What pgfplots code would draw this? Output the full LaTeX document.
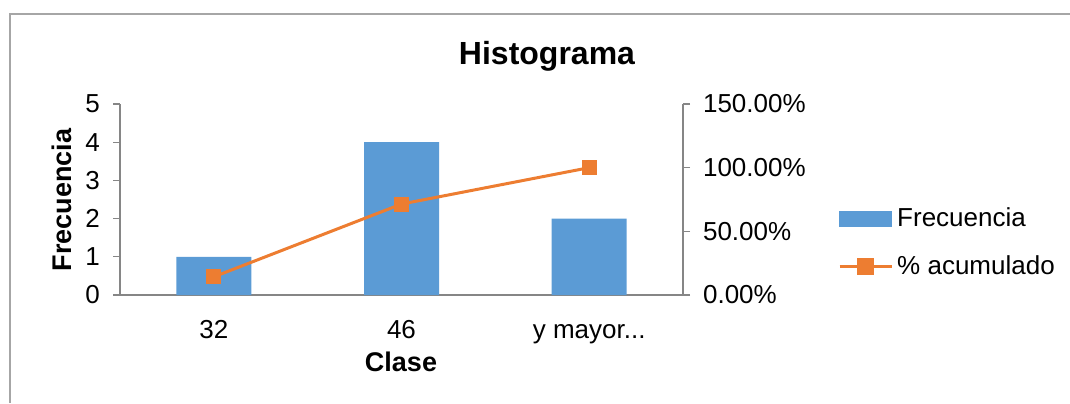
\documentclass[border=0pt]{standalone}
\usepackage{pgfplots}
\pgfplotsset{compat=1.18}
\usepackage{fontspec}
\setmainfont{Liberation Sans}
\definecolor{barblue}{HTML}{5B9BD5}
\definecolor{lineorange}{HTML}{ED7D31}
\definecolor{axgray}{HTML}{868686}
\definecolor{framegray}{HTML}{A6A6A6}
\begin{document}
\begin{tikzpicture}
\useasboundingbox (0,0) rectangle (535pt,201.5pt);
\draw[framegray, line width=1pt] (5pt,0pt) -- (5pt,194.5pt) -- (535pt,194.5pt);
\pgfplotsset{
  base/.style={
    at={(60pt,54pt)}, anchor=south west,
    scale only axis, width=281.5pt, height=95.5pt,
    xmin=-0.5, xmax=2.5,
    axis line style={axgray, line width=0.6pt},
    tick style={axgray, line width=0.6pt},
    tick align=outside,
    ticklabel style={font=\fontsize{13}{15}\selectfont, text=black},
  }
}
\begin{axis}[base,
  axis x line*=bottom, axis y line*=left,
  ymin=0, ymax=5, ytick={0,1,2,3,4,5},
  yticklabels={0,1,2,3,4,5},
  major tick length=3.5pt,
  xtick={0,1,2}, xticklabels={32,46,{y mayor{.}{.}{.}}},
  xtick style={draw=none},
  minor xtick={-0.5,0.5,1.5,2.5},
  minor tick length=3.5pt,
  xticklabel style={text height=9.5pt, text depth=2.5pt, yshift=-5pt},
  yticklabel style={xshift=-3pt},
]
\addplot[ybar, bar width=37.5pt, fill=barblue, draw=none] coordinates {(0,1) (1,4) (2,2)};
\end{axis}
\begin{axis}[base,
  axis x line=none, axis y line*=right,
  ymin=0, ymax=150, ytick={0,50,100,150},
  yticklabels={0.00\%,50.00\%,100.00\%,150.00\%},
  major tick length=3.5pt,
  yticklabel style={xshift=3pt},
  legend style={draw=none, fill=none, at={(1.275,0.275)}, anchor=west,
    font=\fontsize{13}{15}\selectfont, row sep=9pt, inner sep=0pt},
  legend cell align=left,
]
\addlegendimage{legend image code/.code={\fill[barblue] (0pt,-3.75pt) rectangle (26pt,3.75pt);}}
\addlegendentry{Frecuencia}
\addplot[lineorange, line width=1.5pt, mark=square*, mark size=3pt,
  legend image code/.code={\draw[lineorange, line width=1.5pt] (0pt,0pt) -- (26pt,0pt); \fill[lineorange] (9.5pt,-3.5pt) rectangle (16.5pt,3.5pt);}]
  coordinates {(0,14.29) (1,71.43) (2,100)};
\addlegendentry{\% acumulado}
\end{axis}
\node[font=\bfseries\fontsize{16}{18}\selectfont] at (273.5pt,173.5pt) {Histograma};
\node[font=\bfseries\fontsize{13.5}{15}\selectfont, rotate=90] at (31pt,101.5pt) {Frecuencia};
\node[font=\bfseries\fontsize{13.5}{15}\selectfont] at (200.5pt,20.5pt) {Clase};
\end{tikzpicture}
\end{document}
